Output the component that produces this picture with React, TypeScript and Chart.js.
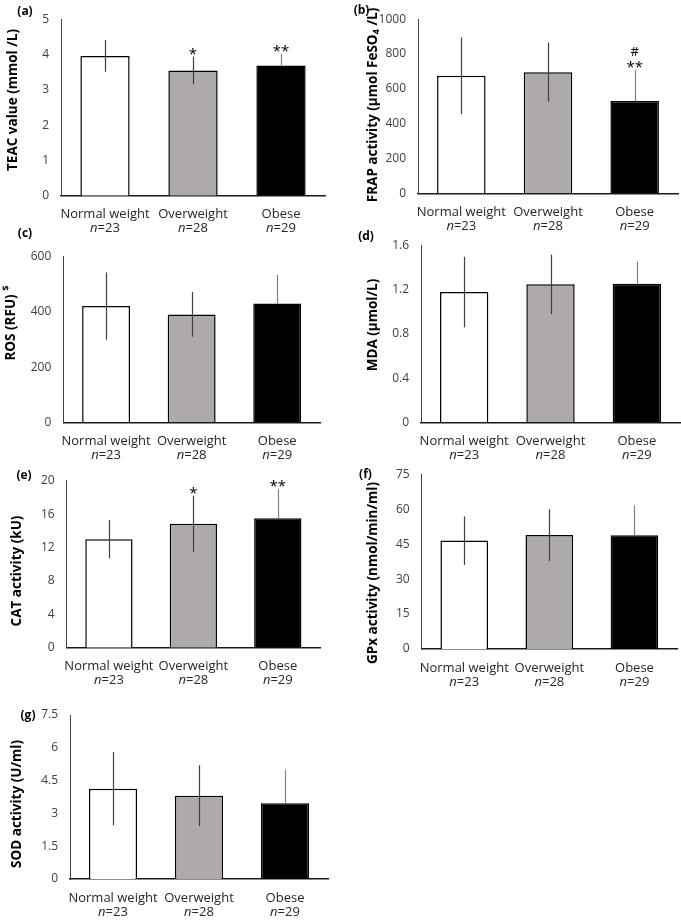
import { useEffect, useRef } from 'react'
import { Chart, registerables } from 'chart.js'

Chart.register(...registerables)

// shared categories
const categories = ['Normal weight', 'Overweight', 'Obese']
const groupSizes = ['23', '28', '29']

// (a) TEAC
const teacMean = [3.96, 3.55, 3.69]
const teacSd = [0.45, 0.39, 0.32]
const teacMarks = [[], ['*'], ['**']]
// (b) FRAP
const frapMean = [675, 696, 530]
const frapSd = [220, 170, 180]
const frapMarks = [[], [], ['**', '#']]
// (c) ROS
const rosMean = [421, 391, 430]
const rosSd = [122, 81, 104]
// (d) MDA
const mdaMean = [1.18, 1.25, 1.255]
const mdaSd = [0.32, 0.27, 0.2]
// (e) CAT
const catMean = [13.0, 14.85, 15.5]
const catSd = [2.3, 3.35, 3.47]
const catMarks = [[], ['*'], ['**']]
// (f) GPx
const gpxMean = [46.5, 48.9, 48.8]
const gpxSd = [10.4, 11.1, 12.8]
// (g) SOD
const sodMean = [4.13, 3.81, 3.46]
const sodSd = [1.67, 1.39, 1.53]

const noMarks: string[][] = [[], [], []]

const barColors = ['#ffffff', '#aeaaaa', '#000000']
const errColors = ['#404040', '#404040', '#808080']
const FONT = '"Open Sans", sans-serif'
const TITLE_SIZE = 13.5

type Seg = { t: string; pos?: 'sub' | 'sup' }

interface PanelDef {
  letter: string
  title: Seg[]
  means: number[]
  sds: number[]
  marks: string[][]
  max: number
  step: number
  box: number[] // left, top, width, height (page px)
  area: number[] // axis left, top, right, bottom (page px)
  titleAt: number[] // centre x, centre y
  letterAt: number[]
}

function Panel({ def }: { def: PanelDef }) {
  const canvasRef = useRef<HTMLCanvasElement>(null)

  useEffect(() => {
    if (!canvasRef.current) return
    const [bx, by, bw, bh] = def.box
    const [al, at, ar, ab] = def.area

    const decor = {
      id: 'decor',
      afterDatasetsDraw(chart: any) {
        const ctx = chart.ctx as CanvasRenderingContext2D
        const xs = chart.scales.x
        const ys = chart.scales.y
        const meta = chart.getDatasetMeta(0)
        ctx.save()

        // error bars + significance marks
        def.means.forEach((m, i) => {
          const bar = meta.data[i] as any
          const x = Math.round(bar.x) + 0.5
          const top = ys.getPixelForValue(m + def.sds[i])
          const low = barColors[i] === '#000000'
            ? ys.getPixelForValue(m)
            : ys.getPixelForValue(m - def.sds[i])
          ctx.strokeStyle = errColors[i]
          ctx.lineWidth = 1.2
          ctx.beginPath()
          ctx.moveTo(x, top)
          ctx.lineTo(x, low)
          ctx.stroke()

          ctx.fillStyle = '#000'
          ctx.textAlign = 'center'
          ctx.textBaseline = 'alphabetic'
          def.marks[i].forEach((s, k) => {
            ctx.font = s === '#' ? `13px ${FONT}` : `15px ${FONT}`
            ctx.fillText(s, bar.x, top + 2 - k * 16)
          })
        })

        // category labels, two lines
        const base = ys.getPixelForValue(0)
        ctx.fillStyle = '#262626'
        ctx.textBaseline = 'middle'
        categories.forEach((c, i) => {
          const x = xs.getPixelForTick(i)
          ctx.textAlign = 'center'
          ctx.font = `13px ${FONT}`
          ctx.fillText(c, x, base + 19)
          ctx.font = `italic 13px ${FONT}`
          const wn = ctx.measureText('n').width
          ctx.font = `13px ${FONT}`
          const rest = '=' + groupSizes[i]
          const wr = ctx.measureText(rest).width
          const start = x - (wn + wr) / 2
          ctx.textAlign = 'left'
          ctx.font = `italic 13px ${FONT}`
          ctx.fillText('n', start, base + 33)
          ctx.font = `13px ${FONT}`
          ctx.fillText(rest, start + wn, base + 33)
        })

        // y axis title, rotated, with sub/superscripts
        const [tcx, tcy] = def.titleAt
        let total = 0
        def.title.forEach((sg) => {
          ctx.font = `bold ${sg.pos ? TITLE_SIZE * 0.7 : TITLE_SIZE}px ${FONT}`
          total += ctx.measureText(sg.t).width
        })
        ctx.translate(tcx - bx, tcy - by)
        ctx.rotate(-Math.PI / 2)
        ctx.fillStyle = '#000'
        ctx.textAlign = 'left'
        ctx.textBaseline = 'middle'
        let px = -total / 2
        def.title.forEach((sg) => {
          ctx.font = `bold ${sg.pos ? TITLE_SIZE * 0.7 : TITLE_SIZE}px ${FONT}`
          const dy = sg.pos === 'sub' ? TITLE_SIZE * 0.25 : sg.pos === 'sup' ? -TITLE_SIZE * 0.35 : 0
          ctx.fillText(sg.t, px, dy)
          px += ctx.measureText(sg.t).width
        })
        ctx.setTransform(chart.currentDevicePixelRatio, 0, 0, chart.currentDevicePixelRatio, 0, 0)

        // panel letter
        ctx.font = `bold 12px ${FONT}`
        ctx.textAlign = 'center'
        ctx.textBaseline = 'middle'
        ctx.fillText(def.letter, def.letterAt[0] - bx, def.letterAt[1] - by)
        ctx.restore()
      },
    }

    const chart = new Chart(canvasRef.current, {
      type: 'bar',
      data: {
        labels: categories,
        datasets: [{
          data: def.means,
          backgroundColor: barColors,
          borderColor: '#000',
          borderWidth: 1.5,
          barPercentage: 0.56,
          categoryPercentage: 1,
        }],
      },
      options: {
        responsive: true,
        maintainAspectRatio: false,
        animation: false,
        events: [],
        layout: { padding: { left: 0, bottom: 0, top: at - by, right: bx + bw - ar } },
        plugins: { legend: { display: false }, tooltip: { enabled: false } },
        scales: {
          x: {
            type: 'category',
            grid: { display: false, drawTicks: false },
            border: { display: true, color: '#1a1a1a', width: 1.5 },
            ticks: { display: false },
            afterFit: (s: any) => { s.height = by + bh - ab },
          },
          y: {
            min: 0,
            max: def.max,
            grid: { display: false, drawTicks: false },
            border: { display: true, color: '#404040', width: 1 },
            ticks: {
              stepSize: def.step,
              padding: 12,
              color: '#404040',
              font: { family: FONT, size: 12 },
              callback: (v: any) => String(Number(Number(v).toFixed(2))),
            },
            afterFit: (s: any) => { s.width = al - bx },
          },
        },
      },
      plugins: [decor],
    })

    return () => chart.destroy()
  }, [def])

  const [bx, by, bw, bh] = def.box
  return (
    <div style={{ position: 'absolute', left: bx, top: by, width: bw, height: bh }}>
      <canvas ref={canvasRef}></canvas>
    </div>
  )
}

const panels: PanelDef[] = [
  {
    letter: '(a)', title: [{ t: 'TEAC value (mmol /L)' }],
    means: teacMean, sds: teacSd, marks: teacMarks, max: 5, step: 1,
    box: [0, 0, 335, 240], area: [61, 13.3, 325, 195.7],
    titleAt: [12.7, 100], letterAt: [25, 11.5],
  },
  {
    letter: '(b)', title: [{ t: 'FRAP activity (µmol FeSO' }, { t: '4', pos: 'sub' }, { t: ' /L)' }],
    means: frapMean, sds: frapSd, marks: frapMarks, max: 1000, step: 200,
    box: [335, 0, 346, 240], area: [418, 14.7, 678, 193.3],
    titleAt: [373, 105], letterAt: [361.5, 11],
  },
  {
    letter: '(c)', title: [{ t: 'ROS (RFU) ' }, { t: '$', pos: 'sup' }],
    means: rosMean, sds: rosSd, marks: noMarks, max: 600, step: 200,
    box: [0, 225, 335, 240], area: [63.3, 256.7, 320, 422.3],
    titleAt: [11, 323], letterAt: [25, 234],
  },
  {
    letter: '(d)', title: [{ t: 'MDA (µmol/L)' }],
    means: mdaMean, sds: mdaSd, marks: noMarks, max: 1.6, step: 0.4,
    box: [335, 225, 346, 240], area: [421, 245.7, 680, 422.3],
    titleAt: [373, 325], letterAt: [366, 237],
  },
  {
    letter: '(e)', title: [{ t: 'CAT activity (kU)' }],
    means: catMean, sds: catSd, marks: catMarks, max: 20, step: 4,
    box: [0, 455, 335, 235], area: [66.7, 480.7, 320, 647.7],
    titleAt: [16.7, 571], letterAt: [24, 476],
  },
  {
    letter: '(f)', title: [{ t: 'GPx activity (nmol/min/ml)' }],
    means: gpxMean, sds: gpxSd, marks: noMarks, max: 75, step: 15,
    box: [335, 455, 346, 235], area: [421.7, 471.7, 677, 649],
    titleAt: [373, 573], letterAt: [365.5, 475],
  },
  {
    letter: '(g)', title: [{ t: 'SOD activity (U/ml)' }],
    means: sodMean, sds: sodSd, marks: noMarks, max: 7.5, step: 1.5,
    box: [0, 686, 335, 235], area: [70, 715, 328, 879],
    titleAt: [17, 804], letterAt: [28, 716],
  },
]

export default function App() {
  return (
    <div style={{ position: 'absolute', left: 0, top: 0, width: 681, height: 921, background: '#fff' }}>
      {panels.map((p) => <Panel key={p.letter} def={p} />)}
    </div>
  )
}
